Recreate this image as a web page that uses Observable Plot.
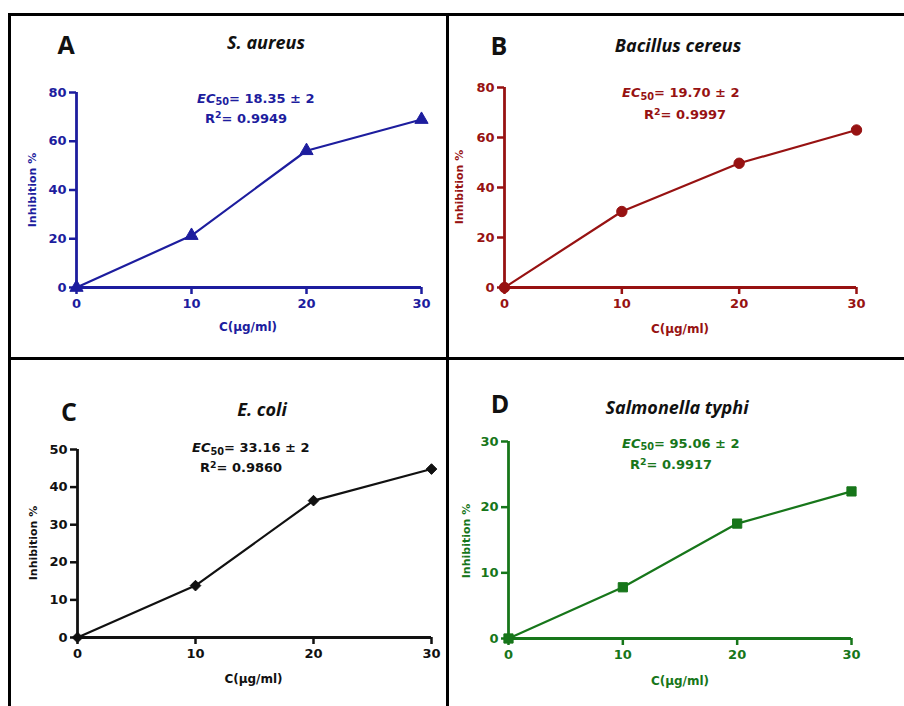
<!DOCTYPE html>
<html>
<head>
<meta charset="utf-8">
<script src="https://cdn.jsdelivr.net/npm/d3@7"></script>
<script src="https://cdn.jsdelivr.net/npm/@observablehq/plot@0.6"></script>
<style>
  html, body { margin: 0; padding: 0; background: #fff; }
  #fig { position: relative; width: 904px; height: 706px; overflow: hidden; background: #fff; }
  .panel { position: absolute; }
  .line { position: absolute; background: #000; }
  .txt { position: absolute; white-space: nowrap; line-height: 1; transform: translate(-50%, -50%); }
  .ltxt { position: absolute; white-space: nowrap; line-height: 1; transform: translate(0, -50%); }
  .letter { font-family: "Open Sans", sans-serif; font-weight: 700; font-size: 25px; color: #111; }
  .title { font-family: "Open Sans", sans-serif; font-weight: 700; font-style: italic; font-size: 18px; color: #111; }
  .ann { font-family: "DejaVu Sans", sans-serif; font-weight: 700; font-size: 13px; }
  .ann i { font-style: oblique; }
  .ann .sub { font-size: 0.75em; position: relative; top: 0.3em; }
  .ann .sup { font-size: 0.72em; position: relative; top: -0.45em; }
  .axl { font-family: "DejaVu Sans", sans-serif; font-weight: 700; font-size: 12px; }
  .ylab { font-size: 11px; transform: translate(-50%, -50%) rotate(-90deg); }
</style>
</head>
<body>
<div id="fig"></div>
<script>
// ---- data ----
const concentrations = [0, 10, 20, 30];
const xTicks = [0, 10, 20, 30];
const sAureus = [0, 21.3, 56.1, 68.9];
const bCereus = [0, 30.4, 49.7, 63.0];
const eColi = [0, 13.8, 36.4, 44.8];
const sTyphi = [0, 7.8, 17.5, 22.4];
const yTicksA = [0, 20, 40, 60, 80];
const yTicksB = [0, 20, 40, 60, 80];
const yTicksC = [0, 10, 20, 30, 40, 50];
const yTicksD = [0, 10, 20, 30];
const panelLetters = ["A", "B", "C", "D"];
const organisms = ["S. aureus", "Bacillus cereus", "E. coli", "Salmonella typhi"];
const ec50 = ["18.35", "19.70", "33.16", "95.06"];
const r2 = ["0.9949", "0.9997", "0.9860", "0.9917"];
const xLabel = "C(μg/ml)";
const yLabel = "Inhibition %";

const fig = document.getElementById("fig");

function addDiv(cls, html, left, top, color) {
  const d = document.createElement("div");
  d.className = cls;
  d.innerHTML = html;
  d.style.left = left + "px";
  d.style.top = top + "px";
  if (color) d.style.color = color;
  fig.appendChild(d);
  return d;
}

function panel(cfg) {
  const data = concentrations.map((c, i) => ({c, v: cfg.values[i]}));
  const chart = Plot.plot({
    width: cfg.width,
    height: cfg.height,
    marginLeft: cfg.mL,
    marginRight: cfg.mR,
    marginTop: cfg.mT,
    marginBottom: cfg.mB,
    style: {
      fontFamily: "DejaVu Sans, sans-serif",
      fontSize: "13px",
      fontWeight: "bold",
      color: cfg.color,
      background: "transparent",
      overflow: "visible"
    },
    x: {domain: [0, 30]},
    y: {domain: cfg.yDomain},
    marks: [
      Plot.axisX({ticks: xTicks, tickSize: 7, tickPadding: 4, strokeWidth: 2.5, label: null, tickFormat: d => String(d)}),
      Plot.axisY({ticks: cfg.yTicks, tickSize: 7, tickPadding: 3, strokeWidth: 2.5, label: null, tickFormat: d => String(d)}),
      Plot.ruleX([0], {stroke: cfg.color, strokeWidth: 2.8}),
      Plot.ruleY([0], {stroke: cfg.color, strokeWidth: 2.8}),
      Plot.line(data, {x: "c", y: "v", stroke: cfg.color, strokeWidth: 2.2}),
      Plot.dot(data, {x: "c", y: "v", symbol: cfg.symbol, r: cfg.r, fill: cfg.color, stroke: cfg.color, strokeWidth: 1})
    ]
  });
  chart.classList.add("panel");
  chart.style.left = cfg.left + "px";
  chart.style.top = cfg.top + "px";
  chart.style.position = "absolute";
  fig.appendChild(chart);
}

const colA = "#1d1d9e", colB = "#971212", colC = "#111111", colD = "#17761a";

panel({left: 0, top: 0, width: 447, height: 358, mL: 76, mR: 26, mT: 92, mB: 71,
  yDomain: [0, 80], yTicks: yTicksA, color: colA, symbol: "triangle", r: 4.9, values: sAureus});
panel({left: 447, top: 0, width: 457, height: 358, mL: 57, mR: 48, mT: 87, mB: 71,
  yDomain: [0, 80], yTicks: yTicksB, color: colB, symbol: "circle", r: 5.2, values: bCereus});
panel({left: 0, top: 358, width: 447, height: 348, mL: 77, mR: 16, mT: 91, mB: 69,
  yDomain: [0, 50], yTicks: yTicksC, color: colC, symbol: "diamond2", r: 4.8, values: eColi});
panel({left: 447, top: 358, width: 457, height: 348, mL: 61, mR: 53, mT: 83, mB: 68,
  yDomain: [0, 30], yTicks: yTicksD, color: colD, symbol: "square", r: 5.2, values: sTyphi});

// frame lines
function line(l, t, w, h) {
  const d = document.createElement("div");
  d.className = "line";
  Object.assign(d.style, {left: l + "px", top: t + "px", width: w + "px", height: h + "px"});
  fig.appendChild(d);
}
line(8, 13, 896, 3);
line(8, 13, 3, 693);
line(446, 13, 3, 693);
line(8, 357, 896, 3);

// panel text
const layout = [
  {letter: [66, 44], title: [266, 42], ec: [197, 97.5], r: [205, 117.5], xl: [248, 327], yl: [31.5, 190], color: colA},
  {letter: [499, 45], title: [678, 44.5], ec: [622, 92], r: [644, 114], xl: [680, 329], yl: [459, 187], color: colB},
  {letter: [69, 411], title: [262, 408.5], ec: [192, 446.7], r: [200, 467], xl: [253.5, 678.5], yl: [32.5, 543], color: colC},
  {letter: [500, 403], title: [677, 407], ec: [622, 442.5], r: [630, 464], xl: [680, 681], yl: [466, 540.5], color: colD}
];
layout.forEach((p, i) => {
  addDiv("txt letter", panelLetters[i], p.letter[0], p.letter[1]);
  addDiv("txt title", organisms[i], p.title[0], p.title[1]);
  addDiv("ltxt ann", `<i>EC</i><span class="sub">50</span>= ${ec50[i]} ± 2`, p.ec[0], p.ec[1], p.color);
  addDiv("ltxt ann", `R<span class="sup">2</span>= ${r2[i]}`, p.r[0], p.r[1], p.color);
  addDiv("txt axl", xLabel, p.xl[0], p.xl[1], p.color);
  addDiv("txt axl ylab", yLabel, p.yl[0], p.yl[1], p.color);
});
</script>
</body>
</html>
